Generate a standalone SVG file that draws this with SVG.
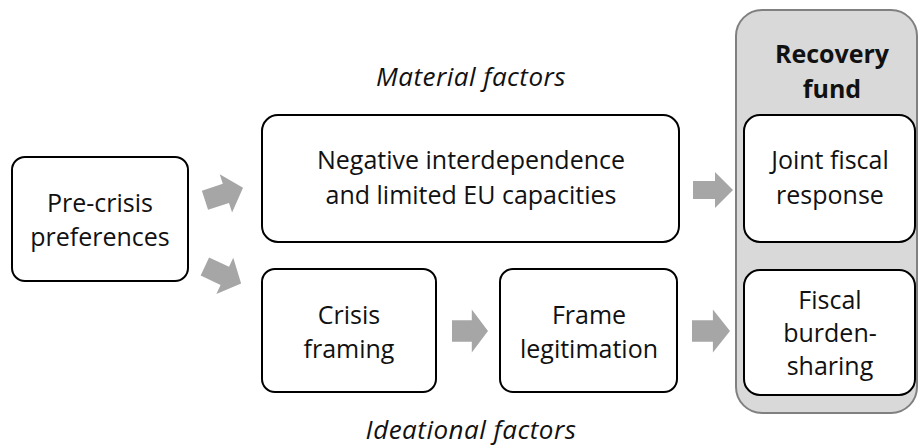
<svg xmlns="http://www.w3.org/2000/svg" width="918" height="448" viewBox="0 0 918 448">
  <defs>
    <style>
      .box { fill: #ffffff; stroke: #000000; stroke-width: 2; }
      .panel { fill: #d9d9d9; stroke: #808080; stroke-width: 2; }
      .arrow { fill: #a6a6a6; }
      text { font-family: "Open Sans", "Liberation Sans", sans-serif; font-size: 25px; fill: #111111; text-anchor: middle; }
      .label { font-style: italic; font-size: 26px; letter-spacing: 0.5px; }
      .title { font-weight: bold; }
    </style>
    <path id="blockArrow" d="M-20,-10 H2 V-20 L20,0 L2,20 V10 H-20 Z"/>
  </defs>

  <!-- Recovery fund panel -->
  <g id="recovery-fund">
    <rect class="panel" x="736" y="10" width="181" height="403" rx="26"/>
    <text class="title" x="832" y="63">Recovery</text>
    <text class="title" x="832" y="98">fund</text>
  </g>

  <g id="pre-crisis">
    <rect class="box" x="12" y="157" width="176" height="124" rx="13"/>
    <text x="100" y="212">Pre-crisis</text>
    <text x="100" y="246">preferences</text>
  </g>

  <g id="negative-interdependence">
    <rect class="box" x="262" y="115" width="417" height="127" rx="16"/>
    <text x="471" y="169">Negative interdependence</text>
    <text x="471" y="204">and limited EU capacities</text>
  </g>

  <g id="crisis-framing">
    <rect class="box" x="262" y="269" width="174" height="123" rx="13"/>
    <text x="349" y="324">Crisis</text>
    <text x="349" y="358">framing</text>
  </g>

  <g id="frame-legitimation">
    <rect class="box" x="500" y="269" width="177" height="123" rx="13"/>
    <text x="589" y="324">Frame</text>
    <text x="589" y="358">legitimation</text>
  </g>

  <g id="joint-fiscal-response">
    <rect class="box" x="744" y="115" width="171" height="127" rx="16"/>
    <text x="830" y="169">Joint fiscal</text>
    <text x="830" y="204">response</text>
  </g>

  <g id="fiscal-burden-sharing">
    <rect class="box" x="744" y="270" width="171" height="125" rx="16"/>
    <text x="830" y="309">Fiscal</text>
    <text x="830" y="342">burden-</text>
    <text x="830" y="375">sharing</text>
  </g>

  <!-- Factor labels -->
  <text class="label" x="471" y="86">Material factors</text>
  <text class="label" x="471" y="439">Ideational factors</text>

  <!-- Block arrows -->
  <g id="connectors">
    <use href="#blockArrow" class="arrow" transform="translate(224,194) rotate(-18)"/>
    <use href="#blockArrow" class="arrow" transform="translate(223,275) rotate(25)"/>
    <use href="#blockArrow" class="arrow" transform="translate(713,190) scale(1,0.9)"/>
    <use href="#blockArrow" class="arrow" transform="translate(470,331) scale(0.9,1.07)"/>
    <use href="#blockArrow" class="arrow" transform="translate(711,331) scale(0.95,1.07)"/>
  </g>
</svg>
